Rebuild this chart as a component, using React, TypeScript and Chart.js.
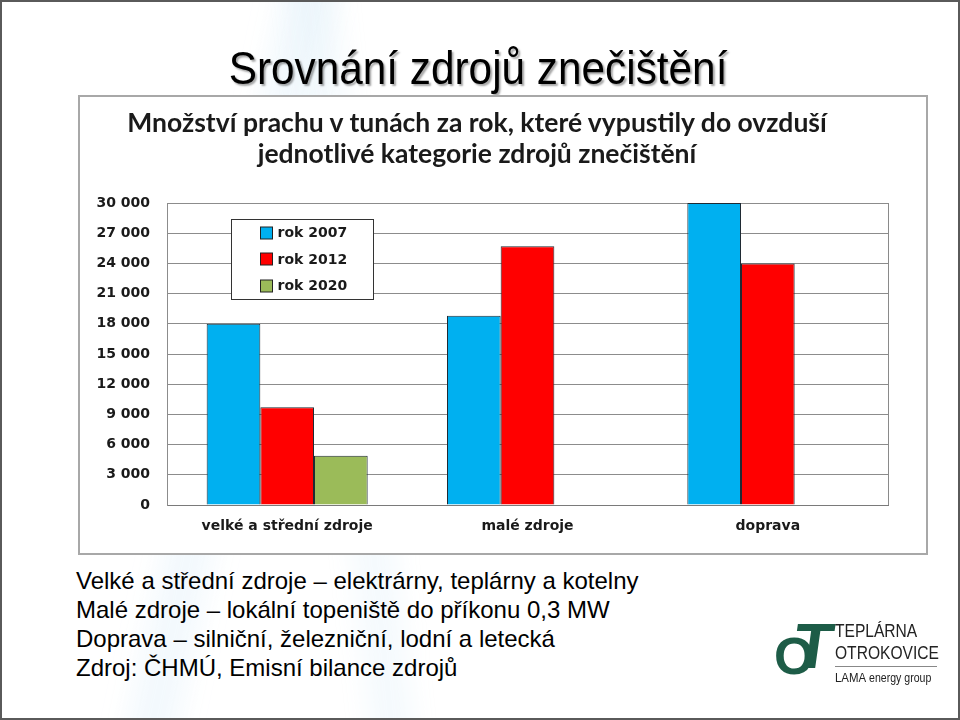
import React, { useEffect, useRef } from "react";
import { Chart, registerables } from "chart.js";

Chart.register(...registerables);

const categories = ["velké a střední zdroje", "malé zdroje", "doprava"];
const seriesLabels = ["rok 2007", "rok 2012", "rok 2020"];
const rok2007 = [18000, 18800, 30000];
const rok2012 = [9700, 25700, 24000];
const rok2020 = [4900, null, null];
const seriesColors = ["#00B0F0", "#FF0000", "#9BBB59"];
const yMin = 0;
const yMax = 30000;
const yStep = 3000;

const chartTitleLines = [
  "Množství prachu v tunách za rok, které vypustily do ovzduší",
  "jednotlivé kategorie zdrojů znečištění",
];
const slideTitle = "Srovnání zdrojů znečištění";
const notes = [
  "Velké a střední zdroje – elektrárny, teplárny a kotelny",
  "Malé zdroje – lokální topeniště do příkonu 0,3 MW",
  "Doprava – silniční, železniční, lodní a letecká",
  "Zdroj: ČHMÚ, Emisní bilance zdrojů",
];

const fmt = (v: number) => String(v).replace(/\B(?=(\d{3})+(?!\d))/g, " ");

const legendPlugin = {
  id: "boxLegend",
  afterDraw(chart: any) {
    const { ctx, chartArea } = chart;
    ctx.save();
    ctx.strokeStyle = "#8a8a8a";
    ctx.lineWidth = 1;
    ctx.beginPath();
    ctx.moveTo(Math.round(chartArea.right) + 0.5, chartArea.top);
    ctx.lineTo(Math.round(chartArea.right) + 0.5, chartArea.bottom);
    ctx.stroke();
    const bx = Math.round(chartArea.left + 64) + 0.5;
    const by = Math.round(chartArea.top + 16) + 0.5;
    const bw = 142;
    const bh = 80;
    ctx.fillStyle = "#ffffff";
    ctx.fillRect(bx, by, bw, bh);
    ctx.strokeStyle = "#333333";
    ctx.strokeRect(bx, by, bw, bh);
    const offs = [13, 39.5, 66];
    chart.data.datasets.forEach((ds: any, i: number) => {
      const cy = by + offs[i];
      ctx.fillStyle = ds.backgroundColor;
      ctx.fillRect(bx + 29, Math.round(cy - 6), 12, 12);
      ctx.strokeStyle = "#222";
      ctx.strokeRect(bx + 29, Math.round(cy - 6), 12, 12);
      ctx.fillStyle = "#1a1a1a";
      ctx.font = "bold 14px 'DejaVu Sans'";
      ctx.textBaseline = "middle";
      ctx.textAlign = "left";
      ctx.fillText(ds.label, bx + 46, cy + 1);
    });
    ctx.restore();
  },
};

export default function App() {
  const ref = useRef<HTMLCanvasElement>(null);
  useEffect(() => {
    document.body.style.margin = "0";
    const datasets = [rok2007, rok2012, rok2020].map((d, i) => ({
      label: seriesLabels[i],
      data: d,
      backgroundColor: seriesColors[i],
      borderColor: "#1f2a33",
      borderWidth: 1,
      categoryPercentage: 0.67,
      barPercentage: 1.0,
    }));
    const chart = new Chart(ref.current!, {
      type: "bar",
      data: { labels: categories, datasets },
      plugins: [legendPlugin],
      options: {
        animation: false,
        responsive: false,
        layout: { padding: { top: 106, right: 38, left: 0, bottom: 0 } },
        plugins: { legend: { display: false }, title: { display: false }, tooltip: { enabled: false } },
        scales: {
          x: {
            grid: { display: false, drawTicks: false },
            border: { display: true, color: "#7a7a7a", width: 1 },
            ticks: {
              color: "#1a1a1a",
              padding: 13,
              font: { family: "'DejaVu Sans'", weight: "bold", size: 14 },
            },
            afterFit: (s: any) => { s.height = 48; },
          },
          y: {
            min: yMin,
            max: yMax,
            ticks: {
              stepSize: yStep,
              color: "#1a1a1a",
              padding: 17,
              font: { family: "'DejaVu Sans'", weight: "bold", size: 14 },
              callback: (v: any) => fmt(Number(v)),
            },
            grid: { color: "#8c8c8c", lineWidth: 1, drawTicks: false },
            border: { display: true, color: "#8c8c8c", width: 1 },
            afterFit: (s: any) => { s.width = 87; },
          },
        },
      },
    });
    return () => chart.destroy();
  }, []);

  return (
    <div
      style={{
        position: "absolute",
        left: 0,
        top: 0,
        width: 960,
        height: 720,
        boxSizing: "border-box",
        border: "2px solid #5a5a5a",
        background: "#ffffff",
        overflow: "hidden",
        fontFamily: "'Liberation Sans', Arial, sans-serif",
      }}
    >
      <div style={{ position: "absolute", left: 200, top: -40, width: 50, height: 820, background: "rgba(215,234,248,0.3)", transform: "rotate(12deg)", filter: "blur(12px)" }} />
      <div style={{ position: "absolute", left: 330, top: -40, width: 45, height: 820, background: "rgba(215,234,248,0.25)", transform: "rotate(-6deg)", filter: "blur(12px)" }} />
      <div
        style={{
          position: "absolute",
          left: 0,
          width: 956,
          top: 43,
          textAlign: "center",
          fontSize: 46,
          lineHeight: "46px",
          color: "#000",
          whiteSpace: "nowrap",
          textShadow: "2px 2px 2px rgba(0,0,0,0.35)",
        }}
      >
        <span style={{ display: "inline-block", transform: "scaleX(0.92)", marginLeft: -4 }}>{slideTitle}</span>
      </div>
      <div
        style={{
          position: "absolute",
          left: 76,
          top: 93,
          width: 850,
          height: 460,
          boxSizing: "border-box",
          border: "2px solid #a8a8a8",
          background: "#fff",
        }}
      >
        <canvas ref={ref} width={846} height={456} style={{ position: "absolute", left: 0, top: 0, width: 846, height: 456 }} />
        <div
          style={{
            position: "absolute",
            left: 0,
            width: 794,
            top: 10,
            textAlign: "center",
            fontFamily: "Lato, sans-serif",
            fontWeight: "bold",
            fontSize: 26.5,
            lineHeight: "31px",
            color: "#1a1a1a",
            whiteSpace: "nowrap",
          }}
        >
          {chartTitleLines.map((l, i) => (
            <div key={i}>{l}</div>
          ))}
        </div>
      </div>
      <div style={{ position: "absolute", left: 74, top: 564, fontSize: 24, lineHeight: "29px", color: "#000", whiteSpace: "nowrap" }}>
        {notes.map((l, i) => (
          <div key={i}>{l}</div>
        ))}
      </div>
      <div style={{ position: "absolute", left: 770, top: 610, width: 70, height: 70 }}>
        <span style={{ position: "absolute", left: 2, top: 18, fontSize: 52, fontWeight: "bold", color: "#1d5c47", lineHeight: "52px", fontFamily: "'Liberation Sans'" }}>O</span>
        <span style={{ position: "absolute", left: 22, top: 2, fontSize: 64, fontWeight: "bold", color: "#1d5c47", lineHeight: "64px", fontFamily: "'Liberation Sans'", transform: "skewX(-8deg)" }}>T</span>
      </div>
      <div style={{ position: "absolute", left: 833, top: 618, color: "#222", whiteSpace: "nowrap", fontFamily: "'Liberation Sans'" }}>
        <div style={{ fontSize: 19, lineHeight: "22px", transform: "scaleX(0.82)", transformOrigin: "left" }}>TEPLÁRNA</div>
        <div style={{ fontSize: 19, lineHeight: "22px", transform: "scaleX(0.82)", transformOrigin: "left" }}>OTROKOVICE</div>
        <div style={{ width: 102, height: 1, background: "#888", margin: "2px 0 3px 0" }} />
        <div style={{ fontSize: 12, lineHeight: "15px", transform: "scaleX(0.88)", transformOrigin: "left" }}>
          <span style={{ fontSize: 13 }}>LAMA</span> energy group
        </div>
      </div>
    </div>
  );
}
